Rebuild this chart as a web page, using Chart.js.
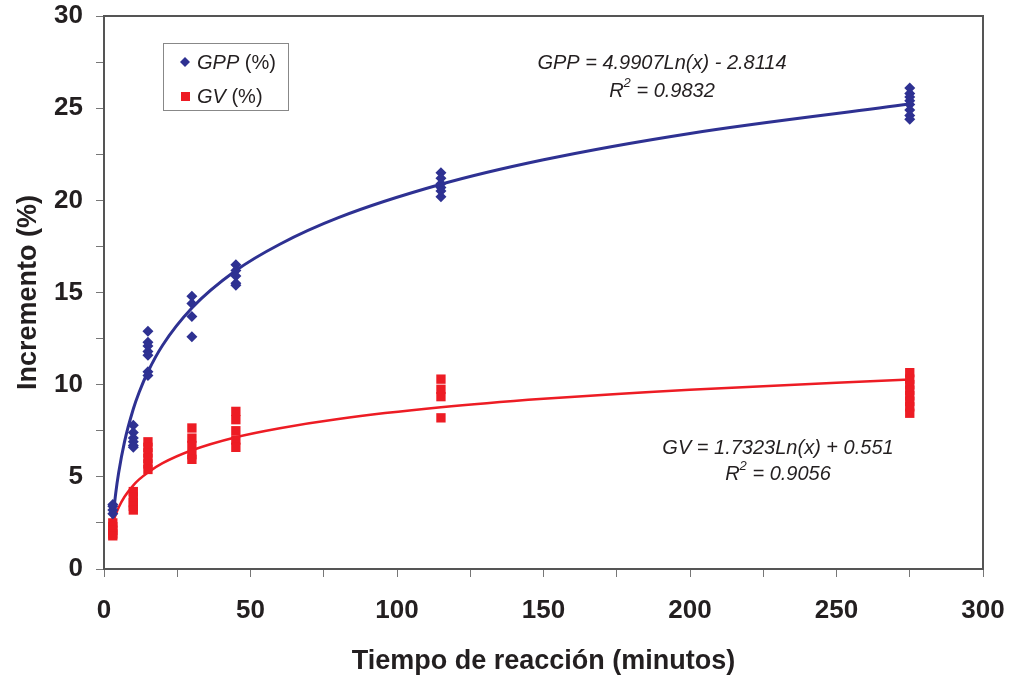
<!DOCTYPE html>
<html><head><meta charset="utf-8">
<script src="https://cdn.jsdelivr.net/npm/chart.js@4.4.1/dist/chart.umd.min.js"></script>
<style>html,body{margin:0;padding:0;background:#fff}#c{display:block}</style>
</head><body>
<canvas id="c" width="1011" height="679"></canvas>
<script>
// ---- data ----
const gppTimes  = [3,3,3,3, 10,10,10,10,10,10, 15,15,15,15,15,15,15, 30,30,30,30, 45,45,45,45,45, 115,115,115,115,115,115, 275,275,275,275,275,275,275,275];
const gppValues = [3.0,3.2,3.4,3.5, 7.8,7.4,7.1,6.9,6.7,6.6, 12.9,12.3,12.1,11.8,11.6,10.7,10.5, 14.8,14.4,13.7,12.6, 16.5,16.2,15.9,15.5,15.4, 21.5,21.2,20.9,20.7,20.5,20.2, 26.1,25.8,25.6,25.4,25.2,24.9,24.6,24.4];
const gvTimes   = [3,3,3,3,3, 10,10,10,10,10, 15,15,15,15,15,15, 30,30,30,30,30, 45,45,45,45,45, 115,115,115,115, 275,275,275,275,275,275,275,275];
const gvValues  = [2.5,2.3,2.1,1.9,1.8, 4.2,3.9,3.6,3.4,3.2, 6.9,6.6,6.3,6.0,5.7,5.4, 7.65,7.1,6.7,6.2,5.95, 8.55,8.1,7.5,7.0,6.6, 10.3,9.75,9.35,8.2, 10.65,10.3,10.0,9.7,9.4,9.1,8.8,8.45];
// trend curves (values of the printed fit equations)
const trendTimes = [3,4,5,7,10,12,15,20,30,45,60,80,115,150,200,275];
const gppTrend   = [2.67,4.11,5.22,6.90,8.68,9.59,10.70,12.14,14.16,16.19,17.62,19.06,20.87,22.20,23.63,25.22];
const gvTrend    = [2.45,2.95,3.34,3.92,4.54,4.86,5.24,5.74,6.44,7.15,7.64,8.14,8.77,9.23,9.73,10.28];
const xTickLabels = [0,50,100,150,200,250,300];
const yTickLabels = [0,5,10,15,20,25,30];
const seriesNames = ['GPP', 'GV'];
const eqTexts = [['GPP = 4.9907Ln(x) - 2.8114', '0.9832'], ['GV = 1.7323Ln(x) + 0.551', '0.9056']];

const BLUE = '#2E3192', RED = '#ED1C24', AXIS = '#555555', TXT = '#231F20';
const FONT = "'Liberation Sans', Arial, sans-serif";
const toPts = (xs, ys) => xs.map((x, i) => ({x, y: ys[i]}));

const framePlugin = {
  id: 'frame',
  afterDraw(chart) {
    const {ctx, chartArea: a} = chart;
    ctx.save();
    ctx.strokeStyle = AXIS; ctx.lineWidth = 2;
    ctx.strokeRect(a.left, a.top, a.right - a.left, a.bottom - a.top);
    // legend box
    ctx.fillStyle = '#fff';
    ctx.strokeStyle = '#888'; ctx.lineWidth = 1;
    ctx.fillRect(163.5, 43.5, 125, 67);
    ctx.strokeRect(163.5, 43.5, 125, 67);
    ctx.fillStyle = BLUE;
    ctx.beginPath(); ctx.moveTo(185, 57); ctx.lineTo(190, 62); ctx.lineTo(185, 67); ctx.lineTo(180, 62); ctx.closePath(); ctx.fill();
    ctx.fillStyle = RED;
    ctx.fillRect(181, 92, 9, 9);
    ctx.fillStyle = TXT; ctx.textBaseline = 'middle'; ctx.textAlign = 'left';
    const item = (name, y) => {
      ctx.font = 'italic 20px ' + FONT;
      ctx.fillText(name, 197, y);
      const w = ctx.measureText(name).width;
      ctx.font = '20px ' + FONT;
      ctx.fillText(' (%)', 197 + w, y);
    };
    item(seriesNames[0], 63);
    item(seriesNames[1], 97);
    const eq = (lines, cx, y1, y2) => {
      ctx.textAlign = 'center';
      ctx.font = 'italic 20px ' + FONT;
      ctx.fillText(lines[0], cx, y1);
      const rest = ' = ' + lines[1];
      const wR = ctx.measureText('R').width, wRest = ctx.measureText(rest).width;
      ctx.font = 'italic 13px ' + FONT;
      const w2 = ctx.measureText('2').width;
      const total = wR + w2 + wRest;
      let x = cx - total / 2;
      ctx.textAlign = 'left';
      ctx.font = 'italic 20px ' + FONT;
      ctx.fillText('R', x, y2); x += wR;
      ctx.font = 'italic 13px ' + FONT;
      ctx.fillText('2', x, y2 - 8); x += w2;
      ctx.font = 'italic 20px ' + FONT;
      ctx.fillText(rest, x, y2);
    };
    eq(eqTexts[0], 662, 63, 91);
    eq(eqTexts[1], 778, 448, 474);
    ctx.restore();
  }
};

new Chart(document.getElementById('c'), {
  type: 'scatter',
  data: {
    datasets: [
      { label: 'GPP trend', type: 'line', data: toPts(trendTimes, gppTrend), borderColor: BLUE, borderWidth: 3, pointRadius: 0, fill: false, cubicInterpolationMode: 'monotone', order: 3 },
      { label: 'GV trend', type: 'line', data: toPts(trendTimes, gvTrend), borderColor: RED, borderWidth: 2.5, pointRadius: 0, fill: false, cubicInterpolationMode: 'monotone', order: 3 },
      { label: 'GPP (%)', data: toPts(gppTimes, gppValues), pointStyle: 'rectRot', pointRadius: 5.5, backgroundColor: BLUE, borderColor: BLUE, borderWidth: 0, order: 1 },
      { label: 'GV (%)', data: toPts(gvTimes, gvValues), pointStyle: 'rect', pointRadius: 6.6, backgroundColor: RED, borderColor: RED, borderWidth: 0, order: 2 }
    ]
  },
  options: {
    responsive: false, animation: false, devicePixelRatio: 1,
    layout: { padding: { left: 0, right: 28, top: 16, bottom: 0 } },
    plugins: { legend: { display: false }, tooltip: { enabled: false } },
    scales: {
      x: {
        type: 'linear', min: 0, max: 300,
        afterFit: s => { s.height = 110; s.paddingLeft = 0; s.paddingRight = 0; },
        border: { color: AXIS, width: 2 },
        grid: { drawOnChartArea: false, drawTicks: true, tickLength: 8, color: '#777', lineWidth: 1 },
        ticks: { stepSize: 25, autoSkip: false, maxRotation: 0, padding: 18, color: TXT,
          font: { family: FONT, size: 26, weight: 'bold' },
          callback: v => xTickLabels.includes(v) ? String(v) : '' },
        title: { display: true, text: 'Tiempo de reacción (minutos)', color: TXT,
          font: { family: FONT, size: 27, weight: 'bold' }, padding: { top: 0, bottom: 1 } }
      },
      y: {
        type: 'linear', min: 0, max: 30,
        afterFit: s => { s.width = 104; s.paddingTop = 0; s.paddingBottom = 0; },
        border: { color: AXIS, width: 2 },
        grid: { drawOnChartArea: false, drawTicks: true, tickLength: 8, color: '#777', lineWidth: 1 },
        ticks: { stepSize: 2.5, autoSkip: false, padding: 13, color: TXT,
          font: { family: FONT, size: 26, weight: 'bold' },
          callback: v => yTickLabels.includes(v) ? String(v) : '' },
        title: { display: true, text: 'Incremento (%)', color: TXT,
          font: { family: FONT, size: 27, weight: 'bold' }, padding: { top: 12, bottom: 0 } }
      }
    }
  },
  plugins: [framePlugin]
});
</script>
</body></html>
